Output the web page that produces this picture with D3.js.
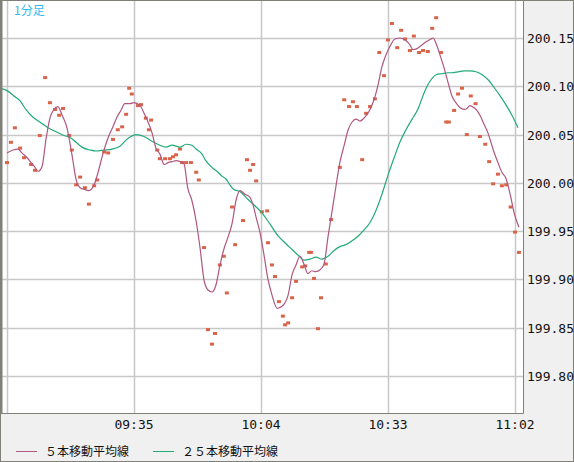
<!DOCTYPE html>
<html><head><meta charset="utf-8">
<script src="https://cdn.jsdelivr.net/npm/d3@7"></script>
<style>body{margin:0;background:#fff}svg{display:block}</style>
</head><body>
<svg width="574" height="462"></svg>
<script>
// minutes after 09:00 and prices
let dotTimes = [6.0,6.9,7.8,9.0,9.9,11.5,12.4,13.5,14.7,15.8,17.0,17.9,18.8,20.2,20.8,21.8,22.7,23.8,24.7,25.9,26.6,28.2,29.1,30.2,31.3,32.3,33.2,33.9,34.5,35.9,36.6,37.7,38.4,38.9,40.3,40.9,42.1,43.2,43.9,44.6,45.5,46.0,46.9,48.0,49.2,49.8,51.0,51.9,52.8,53.5,54.6,55.5,56.2,57.4,58.1,59.9,60.8,61.5,62.2,62.9,64.2,65.4,65.6,66.5,67.2,68.1,69.0,69.5,70.2,71.1,72.0,73.4,74.1,75.0,75.4,76.1,77.0,77.7,78.8,80.0,82.0,83.0,84.1,85.0,85.9,87.1,88.0,88.9,90.0,91.0,92.1,93.0,93.9,95.1,96.0,96.9,98.0,98.9,100.1,101.0,102.1,103.1,104.0,105.1,106.3,106.9,108.1,109.0,109.9,111.0,111.9,113.0,114.0,115.2,116.1,117.0,118.1,119.0,120.0,121.0,122.0,122.9];
let dotValues = [200.021,200.042,200.057,200.036,200.026,200.019,200.013,200.049,200.109,200.083,200.076,200.070,200.077,200.049,200.034,199.998,200.006,199.995,199.978,199.997,200.003,200.032,200.031,200.045,200.055,200.058,200.071,200.098,200.092,200.080,200.081,200.067,200.055,200.065,200.034,200.025,200.025,200.025,200.027,200.029,200.035,200.021,200.021,200.021,200.011,200.003,199.933,199.848,199.833,199.844,199.915,199.924,199.886,199.975,199.936,199.961,200.024,200.013,200.019,200.002,199.970,199.971,199.938,199.915,199.903,199.877,199.862,199.853,199.855,199.881,199.898,199.913,199.914,199.928,199.928,199.901,199.849,199.881,199.916,199.962,200.016,200.086,200.079,200.084,200.079,200.024,200.072,200.079,200.087,200.135,200.111,200.148,200.165,200.140,200.158,200.149,200.137,200.152,200.135,200.137,200.136,200.160,200.171,200.135,200.063,200.063,200.075,200.092,200.098,200.050,200.090,200.082,200.048,200.040,200.022,199.999,200.009,199.997,199.998,199.975,199.949,199.928];

let ma5Times = [6.0,7.4,8.5,9.4,10.6,11.5,12.4,13.1,14.0,14.9,15.8,16.7,17.6,18.6,19.7,20.8,21.8,22.7,23.8,24.7,25.9,26.8,27.9,29.1,30.2,31.1,32.0,32.9,34.1,35.0,36.4,37.3,38.2,39.1,40.0,40.9,41.9,42.8,43.7,44.6,45.5,46.4,47.3,48.2,49.2,50.1,51.0,51.9,52.8,53.7,54.6,55.5,56.4,57.4,58.3,59.2,60.4,61.3,62.2,62.9,63.8,64.7,65.6,66.5,67.7,69.0,70.2,71.1,72.0,72.9,73.8,74.7,75.6,76.5,77.5,78.4,79.3,80.2,81.1,82.0,83.0,83.9,84.8,85.7,86.6,87.5,88.9,89.8,90.7,91.6,92.5,93.4,94.6,95.7,96.9,98.0,98.7,99.6,100.5,101.7,102.8,103.3,104.0,104.9,105.8,106.7,107.6,108.5,109.4,110.4,111.0,111.7,112.2,113.1,114.0,114.9,115.8,116.3,117.2,118.1,119.0,119.9,120.9,121.8,122.9];
let ma5Values = [200.031,200.034,200.035,200.031,200.026,200.021,200.016,200.012,200.017,200.045,200.067,200.076,200.079,200.070,200.057,200.030,200.003,199.995,199.993,199.992,199.998,200.011,200.030,200.047,200.058,200.068,200.075,200.082,200.082,200.083,200.080,200.072,200.063,200.052,200.036,200.030,200.019,200.021,200.022,200.023,200.022,200.020,199.994,199.982,199.960,199.932,199.899,199.889,199.887,199.894,199.914,199.931,199.943,199.958,199.982,199.992,199.988,199.986,199.977,199.964,199.948,199.925,199.900,199.884,199.870,199.873,199.884,199.905,199.915,199.924,199.916,199.906,199.909,199.908,199.910,199.916,199.944,199.970,199.996,200.021,200.039,200.055,200.063,200.066,200.064,200.067,200.076,200.086,200.101,200.120,200.132,200.141,200.149,200.150,200.148,200.143,200.138,200.139,200.142,200.146,200.149,200.150,200.144,200.132,200.119,200.104,200.090,200.083,200.078,200.076,200.077,200.080,200.079,200.076,200.070,200.061,200.052,200.045,200.032,200.021,200.011,200.005,199.988,199.969,199.954];

let ma25Times = [4.4,6.2,7.6,9.0,10.3,11.7,13.5,15.4,17.2,19.0,20.4,21.8,23.1,25.0,26.3,28.2,30.0,31.8,33.6,35.5,37.3,39.1,40.9,42.3,43.7,45.5,46.9,48.2,49.2,50.5,51.4,52.8,54.2,55.1,56.0,56.9,57.8,59.2,61.0,62.9,64.2,66.1,67.9,69.7,71.1,72.5,73.8,75.2,76.6,77.9,79.3,80.7,82.0,83.4,84.8,86.2,87.5,88.9,90.3,91.6,93.0,94.4,95.7,97.1,98.5,99.9,100.8,101.7,102.7,104.0,105.3,106.7,107.6,109.0,110.4,111.7,113.1,114.5,115.8,117.2,118.6,119.9,121.3,122.7];
let ma25Values = [200.098,200.095,200.090,200.085,200.076,200.069,200.063,200.057,200.053,200.049,200.047,200.042,200.037,200.034,200.033,200.034,200.035,200.038,200.046,200.050,200.048,200.043,200.039,200.037,200.039,200.037,200.040,200.039,200.035,200.030,200.023,200.016,200.011,200.007,200.004,199.998,199.993,199.991,199.983,199.975,199.969,199.957,199.945,199.937,199.931,199.925,199.920,199.921,199.923,199.921,199.924,199.930,199.934,199.936,199.940,199.945,199.951,199.959,199.972,199.988,200.008,200.026,200.042,200.055,200.066,200.077,200.088,200.098,200.106,200.112,200.113,200.114,200.114,200.115,200.116,200.116,200.115,200.112,200.107,200.099,200.090,200.081,200.070,200.057];

let yTicks = [199.80,199.85,199.90,199.95,200.00,200.05,200.10,200.15];
let xTicks = [35,64,93,122];
let xTickLabels = ["09:35","10:04","10:33","11:02"];
let legendLabels = ["５本移動平均線","２５本移動平均線"];
let title = "1分足";

let svg = d3.select("svg");
let plotL = 1, plotR = 523, plotT = 1, plotB = 413;

let x = d3.scaleLinear().domain([6,122]).range([7,515]);
let y = d3.scaleLinear().domain([199.80,200.15]).range([376,38]);

svg.append("rect").attr("width",574).attr("height",462).attr("fill","#f0f0f0");
svg.append("rect").attr("x",plotL).attr("y",plotT).attr("width",plotR-plotL).attr("height",plotB-plotT).attr("fill","#fff");

svg.append("clipPath").attr("id","clip").append("rect")
    .attr("x",plotL).attr("y",plotT).attr("width",plotR-plotL).attr("height",plotB-plotT);

let grid = svg.append("g").attr("stroke","#c8c8c8").attr("stroke-width",1.5);
grid.selectAll("line.h").data(yTicks).enter().append("line")
    .attr("x1",plotL).attr("x2",plotR)
    .attr("y1",d => Math.round(y(d))+0.5).attr("y2",d => Math.round(y(d))+0.5);
grid.selectAll("line.v").data([6].concat(xTicks)).enter().append("line")
    .attr("y1",plotT).attr("y2",plotB)
    .attr("x1",d => Math.round(x(d))+0.5).attr("x2",d => Math.round(x(d))+0.5);

let g = svg.append("g").attr("clip-path","url(#clip)");

g.selectAll("rect.dot").data(dotTimes).enter().append("rect")
    .attr("x",d => x(d)-2).attr("y",(d,i) => y(dotValues[i])-1.5)
    .attr("width",4).attr("height",3).attr("fill","#d9644a");

let line = d3.line().x(d => x(d[0])).y(d => y(d[1])).curve(d3.curveMonotoneX);
g.append("path").datum(d3.zip(ma25Times, ma25Values)).attr("d",line)
    .attr("fill","none").attr("stroke","#22aa77").attr("stroke-width",1.2);
g.append("path").datum(d3.zip(ma5Times, ma5Values)).attr("d",line)
    .attr("fill","none").attr("stroke","#b0577f").attr("stroke-width",1.2);

// frame
svg.append("rect").attr("x",0.5).attr("y",0.5).attr("width",573).attr("height",461)
    .attr("fill","none").attr("stroke","#808078");
svg.append("path").attr("d","M1," + (plotB+0.5) + "H" + (plotR+0.5) + "V1")
    .attr("fill","none").attr("stroke","#808078");
svg.append("line").attr("x1",1.5).attr("x2",1.5).attr("y1",0).attr("y2",plotB)
    .attr("stroke","#808078").attr("stroke-width",2);

// axes labels
svg.append("g").selectAll("text").data(yTicks).enter().append("text")
    .attr("x",527).attr("y",d => y(d)+5)
    .attr("font-family","DejaVu Sans Mono").attr("font-size",13).attr("fill","#111")
    .text(d => d.toFixed(2));
svg.append("g").selectAll("text").data(xTicks).enter().append("text")
    .attr("x",d => x(d)).attr("y",429).attr("text-anchor","middle")
    .attr("font-family","DejaVu Sans Mono").attr("font-size",13).attr("fill","#111")
    .text((d,i) => xTickLabels[i]);

svg.append("text").attr("x",14).attr("y",15).attr("font-size",12)
    .attr("font-family","Noto Sans CJK JP").attr("fill","#33bbee").text(title);

let legendColors = ["#b0577f","#22aa77"];
let legendX = [16,153];
legendLabels.forEach(function (t, i) {
    svg.append("line").attr("x1",legendX[i]).attr("x2",legendX[i]+21)
        .attr("y1",451.5).attr("y2",451.5).attr("stroke",legendColors[i]);
    svg.append("text").attr("x",legendX[i]+29).attr("y",456)
        .attr("font-family","Noto Sans CJK JP").attr("font-size",12).attr("fill","#111").text(t);
});
</script>
</body></html>
